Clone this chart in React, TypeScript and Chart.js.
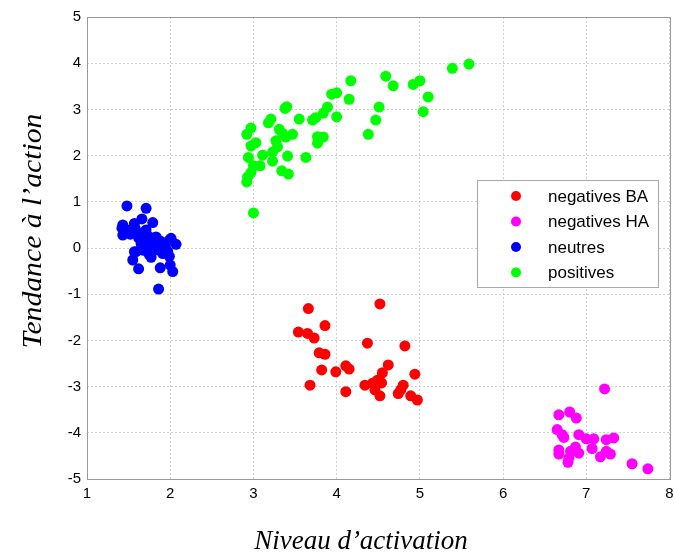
import React, { useEffect, useRef } from "react";
import { Chart, registerables } from "chart.js";

Chart.register(...registerables);

// ---- data ----
const seriesLabels = ["negatives BA", "negatives HA", "neutres", "positives"];
const seriesColors = ["#ff0000", "#ff00ff", "#0000ff", "#00ff00"];

const negBA_x = [3.66, 4.52, 3.86, 3.54, 3.65, 3.73, 4.37, 4.82, 3.79, 3.86, 4.62, 4.11, 4.15, 3.82, 3.99, 4.55, 4.94, 4.49, 3.68, 4.34, 4.43, 4.54, 4.8, 4.77, 4.74, 4.46, 4.52, 4.11, 4.89, 4.97];
const negBA_y = [-1.31, -1.21, -1.68, -1.82, -1.85, -1.95, -2.06, -2.12, -2.27, -2.3, -2.53, -2.55, -2.62, -2.64, -2.68, -2.7, -2.73, -2.86, -2.97, -2.97, -2.93, -2.92, -2.97, -3.07, -3.15, -3.07, -3.2, -3.11, -3.2, -3.29];

const negHA_x = [7.22, 6.67, 6.8, 6.88, 6.65, 6.71, 6.73, 6.91, 7.0, 7.09, 7.24, 7.33, 6.67, 6.67, 6.81, 6.87, 6.91, 6.79, 6.78, 7.07, 7.24, 7.29, 7.17, 7.55, 7.74];
const negHA_y = [-3.05, -3.61, -3.55, -3.68, -3.93, -4.04, -4.1, -4.04, -4.13, -4.13, -4.15, -4.11, -4.37, -4.46, -4.4, -4.31, -4.44, -4.55, -4.64, -4.34, -4.4, -4.46, -4.52, -4.67, -4.78];

const neutres_x = [1.48, 1.71, 1.66, 1.79, 1.43, 1.57, 1.42, 1.49, 1.71, 1.61, 1.43, 1.75, 1.83, 1.67, 1.99, 1.91, 2.07, 1.79, 1.71, 1.59, 1.85, 1.97, 1.75, 1.91, 1.55, 1.99, 1.77, 1.88, 1.62, 2.0, 2.03, 1.86, 1.65, 1.72, 1.8, 1.62, 1.85, 1.95, 1.68, 1.52, 1.58, 1.75, 1.88, 1.7, 2.01, 1.57];
const neutres_y = [0.91, 0.86, 0.63, 0.55, 0.5, 0.53, 0.43, 0.39, 0.39, 0.32, 0.28, 0.24, 0.24, 0.17, 0.17, 0.1, 0.08, 0.06, -0.01, -0.08, -0.04, -0.08, -0.15, -0.12, -0.26, -0.18, -0.2, -0.43, -0.45, -0.37, -0.51, -0.89, 0.1, 0.2, 0.12, 0.22, 0.0, -0.02, -0.05, 0.3, 0.42, 0.05, 0.15, 0.3, 0.21, -0.08];

const positives_x = [5.59, 5.39, 4.59, 5.0, 4.92, 4.68, 4.17, 5.1, 5.04, 4.51, 4.47, 4.38, 4.0, 3.94, 4.15, 3.89, 3.84, 3.75, 3.71, 4.0, 3.4, 3.55, 3.21, 3.18, 3.31, 3.47, 3.35, 3.39, 3.77, 3.84, 3.77, 3.27, 3.29, 3.23, 3.41, 3.23, 3.63, 2.97, 2.92, 3.03, 2.97, 3.11, 2.94, 3.08, 3.0, 2.97, 2.93, 2.92, 3.34, 3.42, 3.0, 3.38];
const positives_y = [3.98, 3.89, 3.72, 3.62, 3.54, 3.51, 3.62, 3.27, 2.95, 3.05, 2.77, 2.46, 3.36, 3.33, 3.22, 3.05, 2.92, 2.82, 2.77, 2.84, 3.06, 2.79, 2.79, 2.71, 2.57, 2.46, 2.48, 2.4, 2.41, 2.4, 2.27, 2.32, 2.19, 2.08, 1.99, 1.88, 1.96, 2.6, 2.46, 2.28, 2.21, 2.01, 1.96, 1.78, 1.78, 1.63, 1.54, 1.43, 1.67, 1.6, 0.76, 3.02];

const xTitle = "Niveau d\u2019activation";
const yTitle = "Tendance \u00e0 l\u2019action";

const toPoints = (xs: number[], ys: number[]) => xs.map((x, i) => ({ x, y: ys[i] }));

const frameAndText = {
  id: "frameAndText",
  afterDraw(chart: any) {
    const { ctx, chartArea } = chart;
    const { left, top, right, bottom } = chartArea;
    ctx.save();
    // frame
    ctx.strokeStyle = "#9a9a9a";
    ctx.lineWidth = 1;
    ctx.setLineDash([]);
    ctx.strokeRect(Math.round(left) + 0.5, Math.round(top) + 0.5, Math.round(right - left), Math.round(bottom - top));
    // titles
    ctx.fillStyle = "#000";
    ctx.font = "italic 27px 'Liberation Serif', 'Times New Roman', serif";
    ctx.textAlign = "center";
    ctx.textBaseline = "middle";
    ctx.fillText(xTitle, 361, 542);
    ctx.translate(34, 231);
    ctx.rotate(-Math.PI / 2);
    ctx.scale(1.1, 1);
    ctx.fillText(yTitle, 0, 0);
    ctx.restore();

    // legend
    ctx.save();
    const lx = 477.5, ly = 180.5, lw = 181, lh = 107;
    ctx.fillStyle = "#fff";
    ctx.fillRect(lx, ly, lw, lh);
    ctx.strokeStyle = "#a8a8a8";
    ctx.lineWidth = 1;
    ctx.strokeRect(lx, ly, lw, lh);
    ctx.font = "17px 'Liberation Sans', Arial, sans-serif";
    ctx.textAlign = "left";
    ctx.textBaseline = "middle";
    seriesLabels.forEach((lab, i) => {
      const yy = 196 + i * 25.5;
      ctx.fillStyle = seriesColors[i];
      ctx.beginPath();
      ctx.arc(516, yy, 5, 0, Math.PI * 2);
      ctx.fill();
      ctx.fillStyle = "#000";
      ctx.fillText(lab, 548, yy + 1);
    });
    ctx.restore();
  },
};

export default function App() {
  const canvasRef = useRef<HTMLCanvasElement | null>(null);

  useEffect(() => {
    document.body.style.margin = "0";
    const canvas = canvasRef.current;
    if (!canvas) return;
    const allX = [negBA_x, negHA_x, neutres_x, positives_x];
    const allY = [negBA_y, negHA_y, neutres_y, positives_y];
    const chart = new Chart(canvas, {
      type: "scatter",
      data: {
        datasets: seriesLabels.map((label, i) => ({
          label,
          data: toPoints(allX[i], allY[i]),
          backgroundColor: seriesColors[i],
          borderColor: seriesColors[i],
          borderWidth: 0,
          pointRadius: 5.5,
          pointHoverRadius: 5.5,
        })),
      },
      options: {
        animation: false,
        responsive: true,
        maintainAspectRatio: false,
        layout: { padding: { top: 17, right: 4, left: 0, bottom: 0 } },
        plugins: { legend: { display: false }, tooltip: { enabled: false } },
        scales: {
          x: {
            type: "linear",
            min: 1,
            max: 8,
            ticks: {
              stepSize: 1,
              color: "#000",
              font: { family: "'Liberation Sans', Arial, sans-serif", size: 15 },
              padding: 6,
            },
            grid: { color: "#cfcfcf", drawTicks: false, lineWidth: 1 },
            border: { display: false, dash: [2, 2] },
            afterFit(scale: any) {
              scale.height = 77;
              scale.paddingLeft = 0;
              scale.paddingRight = 0;
            },
          },
          y: {
            type: "linear",
            min: -5,
            max: 5,
            ticks: {
              stepSize: 1,
              color: "#000",
              font: { family: "'Liberation Sans', Arial, sans-serif", size: 15 },
              padding: 6,
            },
            grid: { color: "#cfcfcf", drawTicks: false, lineWidth: 1 },
            border: { display: false, dash: [2, 2] },
            afterFit(scale: any) {
              scale.width = 87;
              scale.paddingTop = 0;
              scale.paddingBottom = 0;
            },
          },
        },
      },
      plugins: [frameAndText],
    });
    return () => chart.destroy();
  }, []);

  return (
    <div style={{ width: 675, height: 556, position: "relative" }}>
      <canvas ref={canvasRef} />
    </div>
  );
}
